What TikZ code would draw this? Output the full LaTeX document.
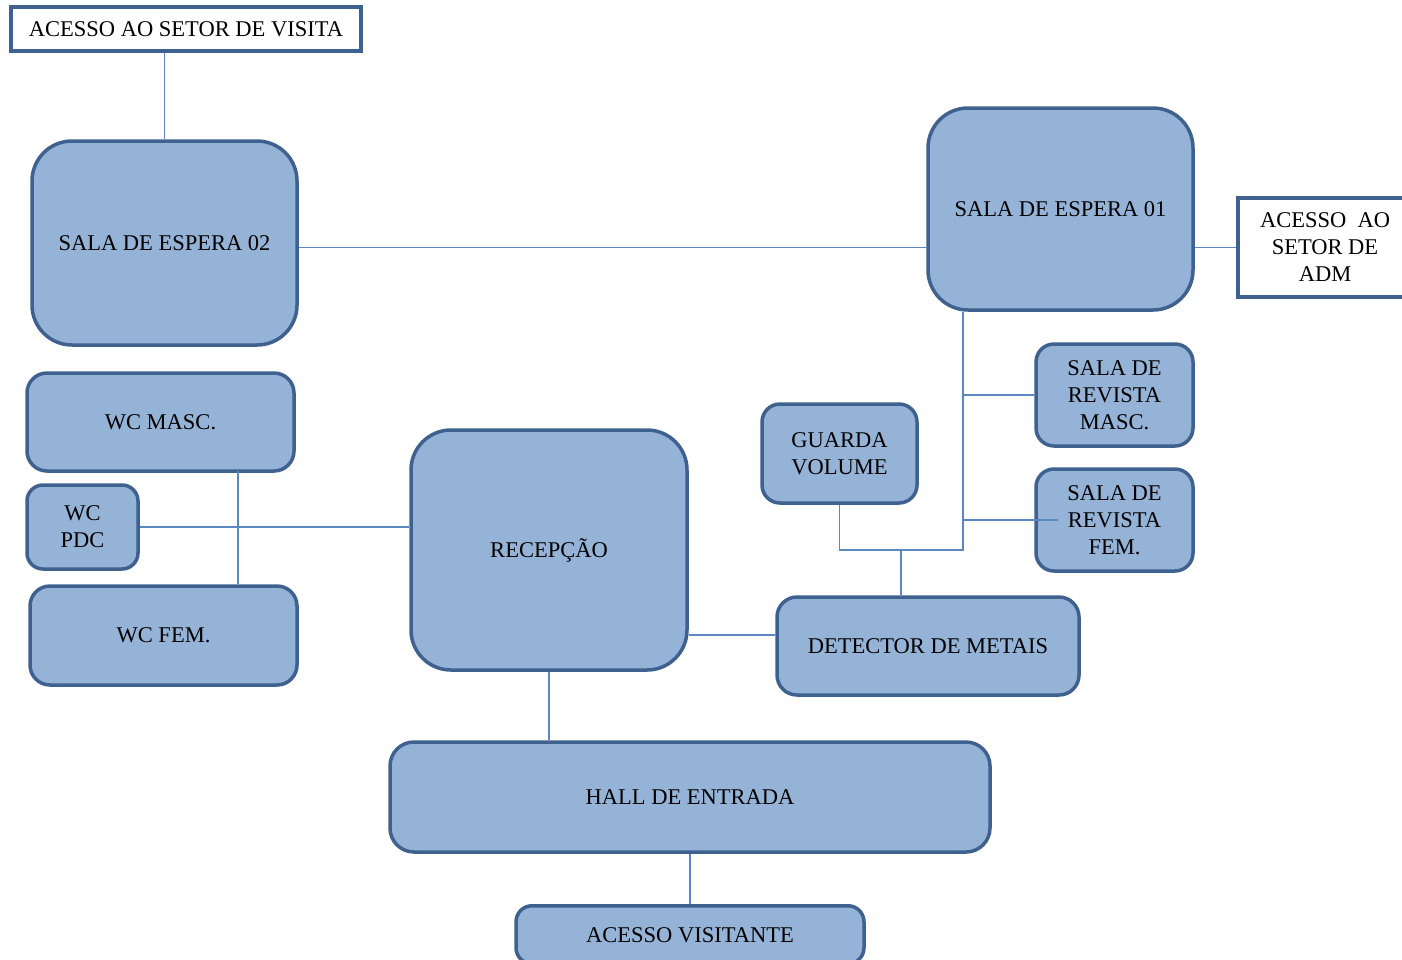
\documentclass[tikz,border=0pt]{standalone}
\usepackage{fontspec}
\setmainfont{Liberation Serif}
\usetikzlibrary{calc}
\definecolor{boxfill}{HTML}{95B3D7}
\definecolor{boxline}{HTML}{3E6190}
\definecolor{conn}{HTML}{5B87C2}
\tikzset{
  room/.style={draw=boxline, fill=boxfill, line width=3.5pt, inner sep=0pt, align=center,
    font=\fontsize{22.5}{27}\selectfont},
  access/.style={draw=boxline, fill=white, line width=3.5pt, inner sep=0pt, align=center,
    font=\fontsize{22.5}{27}\selectfont},
  link/.style={draw=conn, line width=1.5pt}
}
\begin{document}
\begin{tikzpicture}[x=1pt,y=-1pt]
\useasboundingbox (0,0) rectangle (1402,959);
% nodes
\node[access, minimum width=350, minimum height=44] (visita) at (186,29) {ACESSO AO SETOR DE VISITA};
\node[room, rounded corners=40, minimum width=265, minimum height=204] (esp2) at (164.5,243) {SALA DE ESPERA 02};
\node[room, rounded corners=40, minimum width=265, minimum height=202] (esp1) at (1060.5,209) {SALA DE ESPERA 01};
\node[access, minimum width=174, minimum height=99] (adm) at (1325,247.5) {ACESSO\ \ AO\\SETOR DE\\ADM};
\node[room, rounded corners=18, minimum width=157, minimum height=102] (rmasc) at (1114.5,395) {SALA DE\\REVISTA\\MASC.};
\node[room, rounded corners=18, minimum width=157, minimum height=102] (rfem) at (1114.5,520) {SALA DE\\REVISTA\\FEM.};
\node[room, rounded corners=18, minimum width=155, minimum height=99] (guarda) at (839.5,453.5) {GUARDA\\VOLUME};
\node[room, rounded corners=20, minimum width=267, minimum height=98] (wcm) at (160.5,422) {WC MASC.};
\node[room, rounded corners=16, minimum width=111, minimum height=84] (pdc) at (82.5,527) {WC\\PDC};
\node[room, rounded corners=20, minimum width=267, minimum height=99] (wcf) at (163.5,635.5) {WC FEM.};
\node[room, rounded corners=40, minimum width=276, minimum height=240] (rec) at (549,550) {RECEPÇÃO};
\node[room, rounded corners=20, minimum width=302, minimum height=98] (det) at (928,646) {DETECTOR DE METAIS};
\node[room, rounded corners=24, minimum width=600, minimum height=110] (hall) at (690,797) {HALL DE ENTRADA};
\node[room, rounded corners=16, minimum width=348, minimum height=58, anchor=north] (vis) at (690,904) {ACESSO VISITANTE};
% connectors
\coordinate (tr) at (963,550);
\coordinate (jn) at (901,550);
\coordinate (wx) at (238,471);
\draw[link] (esp2.north) -- (esp2.north |- visita.south);
\draw[link] (esp2.east |- adm.west) -- (esp1.west |- adm.west);
\draw[link] (esp1.east |- adm.west) -- (adm.west);
\draw[link] (esp1.south -| tr) -- (tr) -- (guarda.south |- tr) -- (guarda.south);
\draw[link] (jn) -- (jn |- det.north);
\draw[link] (tr |- rmasc.west) -- (rmasc.west);
\draw[link] (tr |- rfem.west) -- ([xshift=24]rfem.west);
\draw[link] (wx) -- (wx |- wcf.north);
\draw[link] (pdc.east) -- (pdc.east -| rec.west);
\draw[link] ($(det.west)+(0,-11)$) -- ($(det.west -| rec.east)+(0,-11)$);
\draw[link] (rec.south) -- (rec.south |- hall.north);
\draw[link] (hall.south) -- (vis.north);
\end{tikzpicture}
\end{document}
